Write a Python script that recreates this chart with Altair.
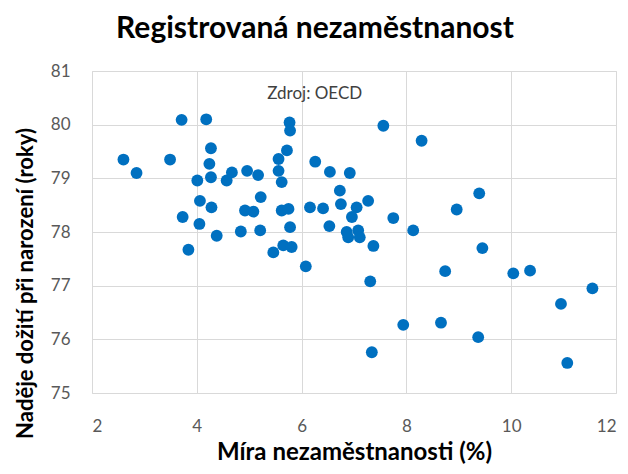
import altair as alt
import pandas as pd

unemployment = [2.60, 2.85, 3.49, 3.71, 4.18, 4.27, 4.24, 4.01, 4.27, 4.57,
                4.67, 4.96, 5.17, 5.22, 4.06, 4.28, 4.92, 5.08, 3.73, 4.05,
                4.38, 4.84, 5.21, 3.84, 5.46, 5.65, 5.72, 5.77, 5.78, 5.56,
                5.56, 5.62, 6.26, 6.54, 6.92, 6.73, 6.75, 7.27, 5.62, 5.75,
                6.16, 6.41, 7.05, 6.96, 5.78, 6.53, 6.86, 7.08, 6.89, 7.11,
                7.37, 5.81, 6.08, 7.56, 8.29, 7.75, 8.13, 8.96, 9.39, 7.31,
                8.74, 9.45, 10.04, 10.36, 11.55, 10.95, 7.94, 8.66, 9.37, 7.34,
                11.07]
life_expectancy = [79.35, 79.10, 79.35, 80.09, 80.10, 79.56, 79.27, 78.96, 79.02, 78.96,
                   79.11, 79.14, 79.06, 78.65, 78.58, 78.46, 78.40, 78.38, 78.28, 78.15,
                   77.93, 78.01, 78.03, 77.67, 77.62, 77.75, 79.52, 80.04, 79.89, 79.36,
                   79.14, 78.93, 79.31, 79.12, 79.10, 78.77, 78.52, 78.58, 78.40, 78.43,
                   78.46, 78.44, 78.46, 78.28, 78.09, 78.11, 78.00, 78.03, 77.90, 77.90,
                   77.74, 77.72, 77.36, 79.98, 79.70, 78.26, 78.03, 78.42, 78.72, 77.08,
                   77.27, 77.70, 77.23, 77.28, 76.95, 76.66, 76.27, 76.31, 76.04, 75.76,
                   75.56]

x_ticks = [2, 4, 6, 8, 10, 12]
y_ticks = [75, 76, 77, 78, 79, 80, 81]

source_label = ["Zdroj: OECD"]
source_x = [6.25]
source_y = [80.57]

df = pd.DataFrame({"u": unemployment, "le": life_expectancy})
note = pd.DataFrame({"t": source_label, "x": source_x, "y": source_y})

FONT = "Lato"

xscale = alt.Scale(domain=[2, 12], nice=False, zero=False)
yscale = alt.Scale(domain=[75, 81], nice=False, zero=False)

points = alt.Chart(df).mark_circle(size=140, opacity=1, color="#0070C0").encode(
    x=alt.X("u:Q", scale=xscale,
            axis=alt.Axis(values=x_ticks, format="d", title="Míra nezaměstnanosti (%)",
                          grid=True, gridColor="#d9d9d9", domain=False, ticks=False,
                          labelFont=FONT, labelFontSize=17, labelColor="#595959",
                          labelPadding=25, titleFont=FONT, titleFontSize=24,
                          titleFontWeight="bold", titleColor="#000000",
                          titlePadding=6)),
    y=alt.Y("le:Q", scale=yscale,
            axis=alt.Axis(values=y_ticks, format="d", title="Naděje dožití při narození (roky)",
                          grid=True, gridColor="#d9d9d9", domain=False, ticks=False,
                          labelFont=FONT, labelFontSize=17, labelColor="#595959",
                          labelPadding=22, titleFont=FONT, titleFontSize=22,
                          titleFontWeight="bold", titleColor="#000000",
                          titleX=-67, titleY=212, titleBaseline="middle",
                          titleAlign="center", titleAngle=-90)),
)

text = alt.Chart(note).mark_text(font=FONT, fontSize=17, color="#404040").encode(
    x=alt.X("x:Q", scale=xscale),
    y=alt.Y("y:Q", scale=yscale),
    text="t:N",
)

chart = alt.layer(points, text).properties(
    width=524,
    height=322,
    title=alt.TitleParams("Registrovaná nezaměstnanost", font=FONT, fontSize=30,
                          fontWeight="bold", color="#000000", anchor="middle",
                          frame="bounds", offset=18),
    autosize=alt.AutoSizeParams(type="none"),
    padding={"left": 84, "top": 63, "right": 4, "bottom": 73},
).configure_view(stroke="#cfcfcf", strokeWidth=1).configure(background="white")

chart.save("out.html", embed_options={"renderer": "svg", "actions": False})
